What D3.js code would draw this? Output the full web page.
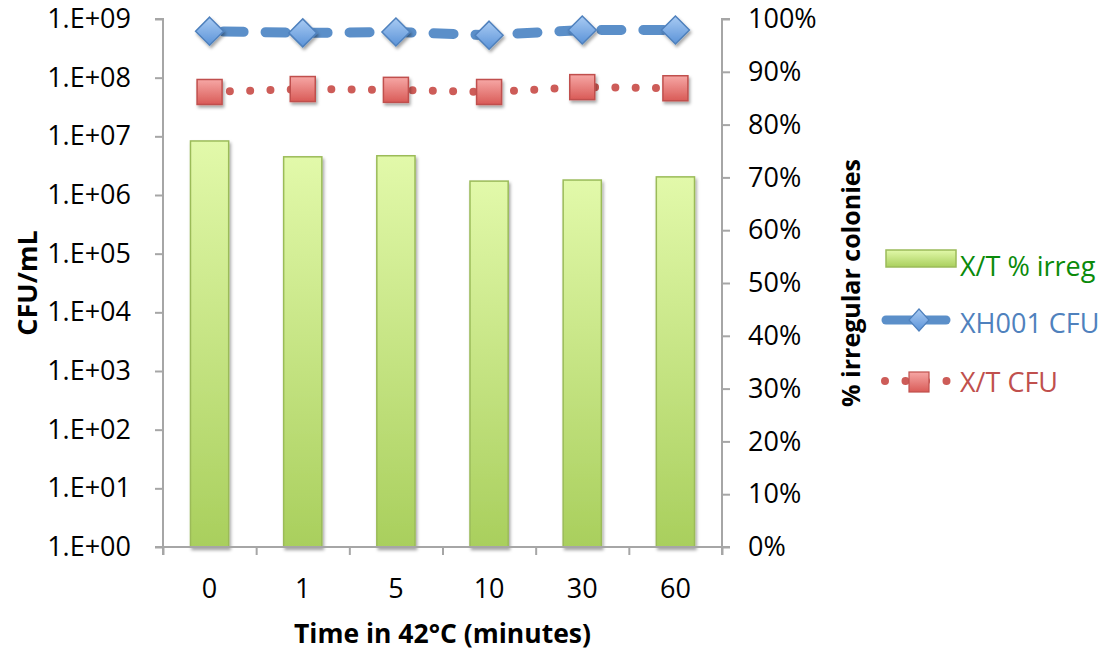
<!DOCTYPE html>
<html><head><meta charset="utf-8">
<script src="https://cdn.jsdelivr.net/npm/d3@7"></script>
<style>body{margin:0;background:#fff}svg{display:block}</style>
</head><body>
<svg id="c" width="1108" height="654"></svg>
<script>
const categories = ["0","1","5","10","30","60"];
const pctIrreg = [0.769, 0.739, 0.741, 0.693, 0.695, 0.701];
const xh001CFU = [6.2e8, 5.8e8, 6.0e8, 5.3e8, 6.5e8, 6.5e8];
const xtCFU = [5.7e7, 6.4e7, 6.2e7, 5.7e7, 6.9e7, 6.6e7];
const leftTicks = [1e0,1e1,1e2,1e3,1e4,1e5,1e6,1e7,1e8,1e9];
const rightTicks = [0,0.1,0.2,0.3,0.4,0.5,0.6,0.7,0.8,0.9,1.0];
const seriesNames = ["X/T % irreg", "XH001 CFU", "X/T CFU"];

const svg = d3.select("#c");
const L = 163, R = 722, T = 19, B = 547;
const font = "'Open Sans', sans-serif";
const axisCol = "#a6a6a6";

const x = d3.scaleBand().domain(categories).range([L, R]).paddingInner(0.59).paddingOuter(0.295);
const yL = d3.scaleLog().domain([1, 1e9]).range([B, T]);
const yR = d3.scaleLinear().domain([0, 1]).range([B, T]);

const defs = svg.append("defs");
const gb = defs.append("linearGradient").attr("id","gbar").attr("x1",0).attr("y1",0).attr("x2",0).attr("y2",1).attr("gradientUnits","objectBoundingBox");
gb.append("stop").attr("offset","0%").attr("stop-color","#e2f9aa");
gb.append("stop").attr("offset","100%").attr("stop-color","#a9cf5d");
const gbl = defs.append("linearGradient").attr("id","gblue").attr("x1",0).attr("y1",0).attr("x2",0).attr("y2",1);
gbl.append("stop").attr("offset","0%").attr("stop-color","#a9cbf3");
gbl.append("stop").attr("offset","100%").attr("stop-color","#5b93d8");
const grd = defs.append("linearGradient").attr("id","gred").attr("x1",0).attr("y1",0).attr("x2",0).attr("y2",1);
grd.append("stop").attr("offset","0%").attr("stop-color","#f6a7a5");
grd.append("stop").attr("offset","100%").attr("stop-color","#d95b57");
const sh = defs.append("filter").attr("id","sh").attr("x","-50%").attr("y","-50%").attr("width","200%").attr("height","200%");
sh.append("feDropShadow").attr("dx",1.5).attr("dy",2.5).attr("stdDeviation",1.8).attr("flood-color","#000").attr("flood-opacity",0.35);

// bars
svg.append("g").selectAll("rect").data(pctIrreg).join("rect")
  .attr("x",(d,i)=>x(categories[i])).attr("width",x.bandwidth())
  .attr("y",d=>yR(d)).attr("height",d=>B-yR(d))
  .attr("fill","url(#gbar)").attr("stroke","#9bbb59").attr("stroke-width",1.5)
  .attr("filter","url(#sh)");

// axes
const gL = svg.append("g").attr("transform",`translate(${L},0)`)
  .call(d3.axisLeft(yL).tickValues(leftTicks).tickSize(8).tickPadding(24)
    .tickFormat(d=>"1.E+"+String(Math.round(Math.log10(d))).padStart(2,"0")));
const gR = svg.append("g").attr("transform",`translate(${R},0)`)
  .call(d3.axisRight(yR).tickValues(rightTicks).tickSize(8).tickPadding(18).tickFormat(d3.format(".0%")));
const xb = d3.scaleLinear().domain([0,6]).range([L,R]);
const gX = svg.append("g").attr("transform",`translate(0,${B})`)
  .call(d3.axisBottom(xb).tickValues(d3.range(0,7)).tickSize(8).tickFormat(""));
const gXl = svg.append("g").attr("transform",`translate(0,${B})`)
  .call(d3.axisBottom(x).tickSize(0).tickPadding(32));
gXl.select(".domain").remove();
[gL,gR,gX].forEach(g=>{g.selectAll("path,line").attr("stroke",axisCol).attr("stroke-width",2);});
gL.select(".domain").attr("d",`M-8,${T}H0V${B}H-8`);
gR.select(".domain").attr("d",`M8,${T}H0V${B}H8`);
gX.select(".domain").attr("d",`M${L},8V0H${R}V8`);
[gL,gR,gXl].forEach(g=>g.selectAll("text").attr("font-family",font).attr("font-size",27).attr("fill","#000"));

// lines
const lineL = d3.line().x((d,i)=>x(categories[i])+x.bandwidth()/2).y(d=>yL(d));
svg.append("path").datum(xh001CFU).attr("d",lineL).attr("fill","none")
  .attr("stroke","#5b8fc9").attr("stroke-width",10).attr("stroke-linecap","round")
  .attr("stroke-dasharray","20 22").attr("stroke-dashoffset",-14);
svg.append("path").datum(xtCFU).attr("d",lineL).attr("fill","none")
  .attr("stroke","#cd5c58").attr("stroke-width",8).attr("stroke-linecap","round")
  .attr("stroke-dasharray","0 20.3").attr("stroke-dashoffset",0);

const cx = i=>x(categories[i])+x.bandwidth()/2;
const dm = 14;
svg.append("g").selectAll("path").data(xh001CFU).join("path")
  .attr("d",(d,i)=>`M${cx(i)},${yL(d)-dm}L${cx(i)+dm},${yL(d)}L${cx(i)},${yL(d)+dm}L${cx(i)-dm},${yL(d)}Z`)
  .attr("fill","url(#gblue)").attr("stroke","#4f81bd").attr("stroke-width",1.5).attr("filter","url(#sh)");
const sq = 12.5;
svg.append("g").selectAll("rect").data(xtCFU).join("rect")
  .attr("x",(d,i)=>cx(i)-sq).attr("y",d=>yL(d)-sq).attr("width",2*sq).attr("height",2*sq)
  .attr("fill","url(#gred)").attr("stroke","#c0504d").attr("stroke-width",1.5).attr("filter","url(#sh)");

// axis titles
const cy = (T+B)/2;
svg.append("text").attr("x",(L+R)/2).attr("y",643).attr("text-anchor","middle")
  .attr("font-family",font).attr("font-weight","bold").attr("font-size",26.5).text("Time in 42°C (minutes)");
svg.append("text").attr("transform",`translate(37,${cy}) rotate(-90)`).attr("text-anchor","middle")
  .attr("font-family",font).attr("font-weight","bold").attr("font-size",27).text("CFU/mL");
svg.append("text").attr("transform",`translate(860,${cy}) rotate(-90)`).attr("text-anchor","middle")
  .attr("font-family",font).attr("font-weight","bold").attr("font-size",25).text("% irregular colonies");

// legend
const lg = svg.append("g");
const lfs = 27;
lg.append("rect").attr("x",886).attr("y",250).attr("width",70).attr("height",17)
  .attr("fill","url(#gbar)").attr("stroke","#9bbb59").attr("stroke-width",1.5);
lg.append("text").attr("x",960).attr("y",276).attr("font-family",font).attr("font-size",lfs).attr("fill","#0a8a0a").text(seriesNames[0]);
lg.append("line").attr("x1",886).attr("x2",946).attr("y1",320).attr("y2",320)
  .attr("stroke","#5b8fc9").attr("stroke-width",9).attr("stroke-linecap","round");
lg.append("path").attr("d",`M919,309L929,320L919,331L909,320Z`).attr("fill","url(#gblue)").attr("stroke","#4f81bd").attr("stroke-width",1.2);
lg.append("text").attr("x",960).attr("y",333).attr("font-family",font).attr("font-size",lfs).attr("fill","#4f81bd").text(seriesNames[1]);
lg.append("line").attr("x1",885).attr("x2",950).attr("y1",381).attr("y2",381)
  .attr("stroke","#cd5c58").attr("stroke-width",8).attr("stroke-linecap","round").attr("stroke-dasharray","0 20.5");
lg.append("rect").attr("x",909).attr("y",372).attr("width",20).attr("height",20).attr("fill","url(#gred)").attr("stroke","#c0504d").attr("stroke-width",1.2);
lg.append("text").attr("x",960).attr("y",392).attr("font-family",font).attr("font-size",lfs).attr("fill","#c0504d").text(seriesNames[2]);
</script>
</body></html>
